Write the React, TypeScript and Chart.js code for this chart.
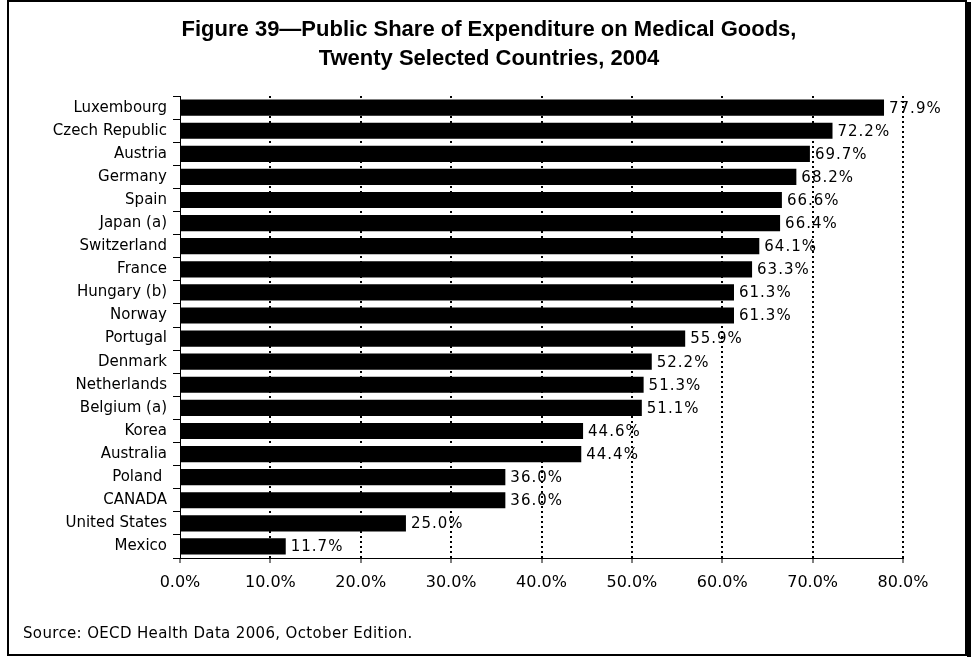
import React, { useEffect, useRef } from "react";
import { Chart, registerables } from "chart.js";

Chart.register(...registerables);

const countries = [
  "Luxembourg", "Czech Republic", "Austria", "Germany", "Spain", "Japan (a)",
  "Switzerland", "France", "Hungary (b)", "Norway", "Portugal", "Denmark",
  "Netherlands", "Belgium (a)", "Korea", "Australia", "Poland ", "CANADA",
  "United States", "Mexico",
];
const publicShare = [
  77.9, 72.2, 69.7, 68.2, 66.6, 66.4, 64.1, 63.3, 61.3, 61.3, 55.9, 52.2,
  51.3, 51.1, 44.6, 44.4, 36.0, 36.0, 25.0, 11.7,
];
const titleLines = [
  "Figure 39\u2014Public Share of Expenditure on Medical Goods,",
  "Twenty Selected Countries, 2004",
];
const sourceNote = "Source: OECD Health Data 2006, October Edition.";

const TICK_FONT = "DejaVu Sans";

export default function App() {
  const ref = useRef<HTMLCanvasElement | null>(null);

  useEffect(() => {
    if (!ref.current) return;

    const titleShift = {
      id: "titleShift",
      afterLayout(chart: any) {
        const tb = chart.titleBlock;
        if (tb) {
          tb.left = 7;
          tb.right = 971;
        }
      },
    };

    const framePlugin = {
      id: "frame",
      afterDraw(chart: any) {
        const c = chart.ctx;
        c.save();
        c.strokeStyle = "#000";
        c.lineWidth = 2;
        c.strokeRect(8, 1, 958, 654);
        c.fillStyle = "#000";
        c.fillRect(967, 2, 4, 655);
        c.fillStyle = "#000";
        c.font = `15px "${TICK_FONT}"`;
        try { (c as any).letterSpacing = "0.35px"; } catch (e) {}
        c.textAlign = "left";
        c.textBaseline = "middle";
        c.fillText(sourceNote, 23, 634);
        c.restore();
      },
    };

    const labelPlugin = {
      id: "valueLabels",
      afterDatasetsDraw(chart: any) {
        const c = chart.ctx;
        const meta = chart.getDatasetMeta(0);
        c.save();
        c.fillStyle = "#000";
        c.font = `15px "${TICK_FONT}"`;
        try { (c as any).letterSpacing = "1px"; } catch (e) {}
        c.textAlign = "left";
        c.textBaseline = "middle";
        meta.data.forEach((bar: any, i: number) => {
          const v = publicShare[i];
          c.fillText(v.toFixed(1) + "%", bar.x + 5, bar.y + 1);
        });
        c.restore();
      },
    };

    const chart = new Chart(ref.current, {
      type: "bar",
      data: {
        labels: countries,
        datasets: [
          {
            data: publicShare,
            backgroundColor: "#000",
            borderWidth: 0,
            barPercentage: 0.7,
            categoryPercentage: 1,
          },
        ],
      },
      options: {
        indexAxis: "y",
        animation: false,
        responsive: false,
        maintainAspectRatio: false,
        layout: { padding: { left: 0, right: 68, top: 0, bottom: 49 } },
        plugins: {
          legend: { display: false },
          tooltip: { enabled: false },
          title: {
            display: true,
            text: titleLines,
            color: "#000",
            font: { family: "Liberation Sans", size: 22, weight: "bold", lineHeight: 1.32 },
            padding: { top: 15, bottom: 23 },
          },
        },
        scales: {
          x: {
            type: "linear",
            min: 0,
            max: 80,
            afterFit(scale: any) {
              scale.height = 50;
            },
            ticks: {
              stepSize: 10,
              color: "#000",
              padding: 10,
              font: { family: TICK_FONT, size: 16 },
              callback: (v: any) => Number(v).toFixed(1) + "%",
            },
            grid: {
              color: (ctx: any) => (ctx.index === 0 ? "rgba(0,0,0,0)" : "#000"),
              lineWidth: 2,
              drawTicks: true,
              tickLength: 5,
              tickColor: "#000",
              tickWidth: 1,
            },
            border: { display: true, color: "#000", width: 1, dash: [2, 3] },
          },
          y: {
            type: "category",
            afterFit(scale: any) {
              scale.width = 180;
            },
            ticks: {
              color: "#000",
              padding: 6,
              autoSkip: false,
              font: { family: TICK_FONT, size: 15 },
            },
            grid: {
              offset: true,
              drawOnChartArea: false,
              drawTicks: true,
              tickLength: 7,
              tickColor: "#000",
              tickWidth: 1,
            },
            border: { display: true, color: "#000", width: 1 },
          },
        },
      },
      plugins: [titleShift, labelPlugin, framePlugin],
    });

    return () => chart.destroy();
  }, []);

  return (
    <div style={{ position: "absolute", left: 0, top: 0, width: 971, height: 657, background: "#fff" }}>
      <canvas ref={ref} width={971} height={657} style={{ display: "block", width: 971, height: 657 }} />
    </div>
  );
}
